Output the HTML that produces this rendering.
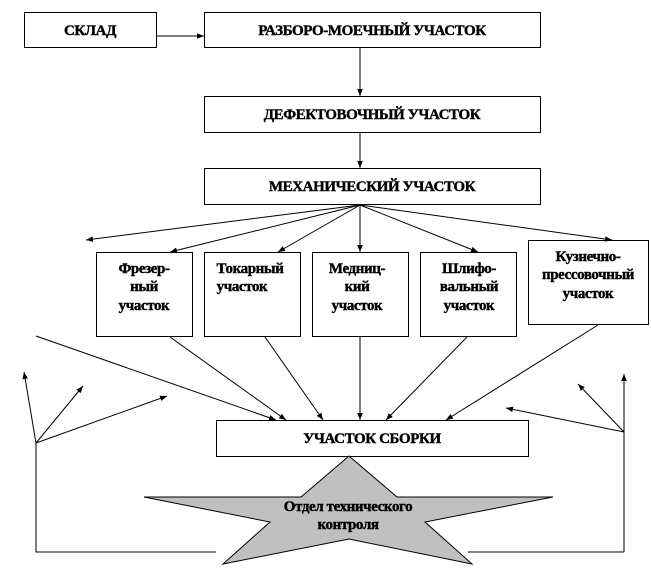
<!DOCTYPE html>
<html><head><meta charset="utf-8"><style>
html,body{margin:0;padding:0;background:#fff;}
svg text{font-family:"Liberation Serif","Noto Serif CJK SC",serif;font-weight:bold;font-size:15px;fill:#000;stroke:#000;stroke-width:0.4;text-anchor:middle;letter-spacing:-0.4px;}
</style></head><body>
<svg width="651" height="576" viewBox="0 0 651 576" xmlns="http://www.w3.org/2000/svg">
<defs><marker id="a" viewBox="0 0 10 10" refX="10" refY="5" markerWidth="7" markerHeight="7" orient="auto" markerUnits="userSpaceOnUse"><path d="M0,1 L10,5 L0,9 z" fill="#000"/></marker></defs>
<g fill="#fff" stroke="#000" stroke-width="1">
<rect x="24.5" y="12.5" width="132" height="35"/>
<rect x="204.5" y="12.5" width="336" height="35"/>
<rect x="204.5" y="96.5" width="336" height="36"/>
<rect x="204.5" y="168.5" width="336" height="36"/>
<rect x="96.5" y="252.5" width="96" height="84"/>
<rect x="204.5" y="252.5" width="96" height="84"/>
<rect x="312.5" y="252.5" width="96" height="84"/>
<rect x="420.5" y="252.5" width="96" height="84"/>
<rect x="528.5" y="240.5" width="120" height="84"/>
<rect x="216.5" y="420.5" width="312" height="36"/>
</g>
<polygon points="349,456 301,497 144,497 270,522 223,564 349,539 472,564 425,522 553,497 397,497" fill="#c0c0c0" stroke="#000" stroke-width="1"/>
<g stroke="#000" stroke-width="1" fill="none" marker-end="url(#a)">
<line x1="157" y1="36" x2="204" y2="36"/>
<line x1="360" y1="48" x2="360" y2="96"/>
<line x1="360" y1="132" x2="360" y2="168"/>
<line x1="360" y1="205" x2="86" y2="240"/>
<line x1="360" y1="205" x2="170" y2="252"/>
<line x1="360" y1="205" x2="278" y2="252"/>
<line x1="360" y1="205" x2="360" y2="252"/>
<line x1="360" y1="205" x2="478" y2="252"/>
<line x1="360" y1="205" x2="612" y2="240"/>
<line x1="170" y1="337" x2="286" y2="420"/>
<line x1="265" y1="337" x2="323" y2="420"/>
<line x1="360" y1="337" x2="360" y2="420"/>
<line x1="467" y1="337" x2="386" y2="420"/>
<line x1="598" y1="325" x2="446" y2="420"/>
<line x1="36" y1="336" x2="276" y2="420"/>
<line x1="36" y1="443" x2="24" y2="372"/>
<line x1="36" y1="443" x2="83" y2="386"/>
<line x1="36" y1="443" x2="167" y2="396"/>
<line x1="624" y1="552" x2="624" y2="374"/>
<line x1="624" y1="432" x2="578" y2="384"/>
<line x1="624" y1="432" x2="506" y2="408"/>
</g>
<g stroke="#000" stroke-width="1" fill="none">
<polyline points="36,443 36,552 216,552"/>
<line x1="468" y1="552" x2="624" y2="552"/>
</g>
<text x="90" y="35">СКЛАД</text>
<text x="372" y="35">РАЗБОРО-МОЕЧНЫЙ УЧАСТОК</text>
<text x="372" y="119">ДЕФЕКТОВОЧНЫЙ УЧАСТОК</text>
<text x="372" y="191">МЕХАНИЧЕСКИЙ УЧАСТОК</text>
<text x="144" y="273">Фрезер-</text>
<text x="144" y="291">ный</text>
<text x="144" y="310">участок</text>
<text x="250" y="273">Токарный</text>
<text x="242" y="291">участок</text>
<text x="357" y="273">Медниц-</text>
<text x="357" y="291">кий</text>
<text x="357" y="310">участок</text>
<text x="469" y="273">Шлифо-</text>
<text x="469" y="291">вальный</text>
<text x="469" y="310">участок</text>
<text x="588" y="261">Кузнечно-</text>
<text x="588" y="279">прессовочный</text>
<text x="588" y="298">участок</text>
<text x="372" y="443">УЧАСТОК СБОРКИ</text>
<text x="348" y="511" style="font-size:15px">Отдел технического</text>
<text x="348" y="529" style="font-size:15px">контроля</text>
</svg>
</body></html>
